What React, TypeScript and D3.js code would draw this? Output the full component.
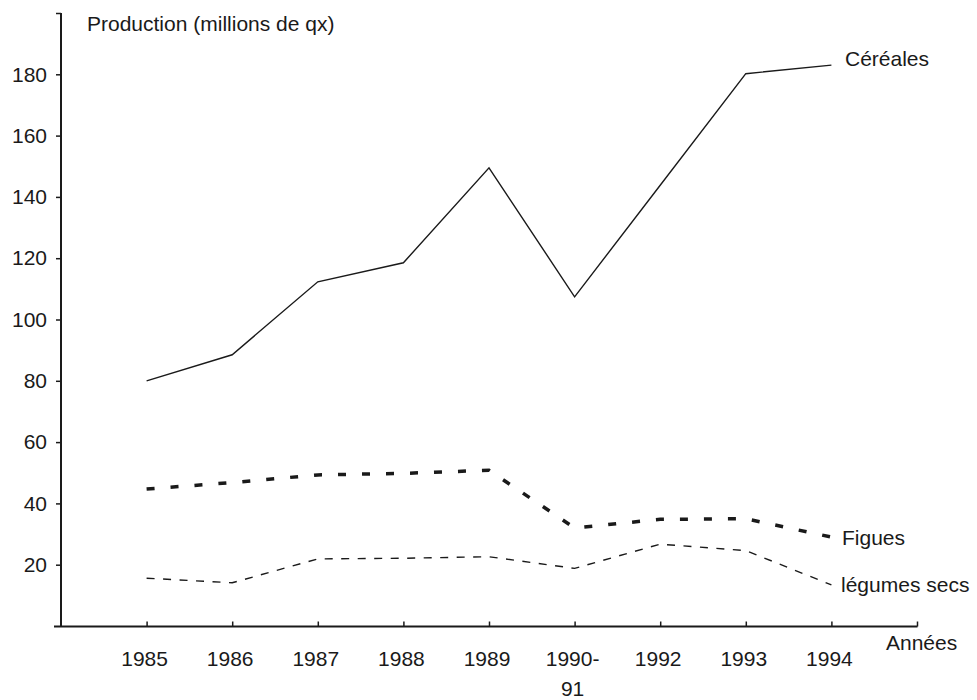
import React, { useEffect, useRef } from "react";
import * as d3 from "d3";

const years = ["1985", "1986", "1987", "1988", "1989", "1990-\n91", "1992", "1993", "1994"];
const cereales = [80, 88.5, 112.3, 118.5, 149.5, 107.4, 143.8, 180.2, 183];
const figues = [44.7, 46.8, 49.3, 49.8, 50.8, 32, 34.8, 35, 29];
const legumes = [15.6, 14.1, 21.9, 22.1, 22.6, 18.8, 26.7, 24.6, 13.4];
const yTicks = [20, 40, 60, 80, 100, 120, 140, 160, 180, 200];

const W = 977;
const H = 700;
const FONT = "'Liberation Sans', Arial, sans-serif";

export default function App() {
  const ref = useRef<SVGSVGElement>(null);

  useEffect(() => {
    const svg = d3.select(ref.current);
    svg.selectAll("*").remove();

    const x = d3.scaleLinear().domain([0, 10]).range([61, 917]);
    const y = d3.scaleLinear().domain([0, 200]).range([626, 13]);
    const color = "#1a1a1a";

    // Y axis
    const yAxis = d3
      .axisLeft(y)
      .tickValues(yTicks)
      .tickSizeInner(5)
      .tickSizeOuter(0)
      .tickPadding(9)
      .tickFormat((d) => (d === 200 ? "" : String(d)));
    const gy = svg.append("g").attr("transform", "translate(61,0)").call(yAxis as any);
    gy.select(".domain").remove();
    gy.selectAll(".tick line").attr("stroke", color).attr("stroke-width", 1.5);
    gy.selectAll(".tick text")
      .attr("font-family", FONT)
      .attr("font-size", 21)
      .attr("fill", color);
    svg
      .append("line")
      .attr("x1", 61)
      .attr("x2", 61)
      .attr("y1", y(200))
      .attr("y2", 627)
      .attr("stroke", color)
      .attr("stroke-width", 2);

    // X axis
    const xAxis = d3
      .axisBottom(x)
      .tickValues(d3.range(1, 11))
      .tickSizeInner(-5)
      .tickSizeOuter(0)
      .tickFormat(() => "");
    const gx = svg.append("g").attr("transform", "translate(0,626.5)").call(xAxis as any);
    gx.select(".domain").remove();
    gx.selectAll(".tick line").attr("stroke", color).attr("stroke-width", 1.5);
    svg
      .append("line")
      .attr("x1", 54)
      .attr("x2", 917.5)
      .attr("y1", 626.5)
      .attr("y2", 626.5)
      .attr("stroke", color)
      .attr("stroke-width", 2);

    // X labels
    const lab = svg
      .append("g")
      .attr("font-family", FONT)
      .attr("font-size", 21)
      .attr("fill", color)
      .attr("text-anchor", "middle");
    years.forEach((yr, i) => {
      const t = lab
        .append("text")
        .attr("x", x(i + 1) - 2)
        .attr("y", 666);
      yr.split("\n").forEach((part, j) => {
        t.append("tspan")
          .attr("x", x(i + 1) - 2)
          .attr("dy", j === 0 ? 0 : 30)
          .text(part);
      });
    });

    // Lines
    const line = d3
      .line<number>()
      .x((_, i) => x(i + 1))
      .y((d) => y(d));

    svg
      .append("path")
      .attr("d", line(cereales) as string)
      .attr("fill", "none")
      .attr("stroke", color)
      .attr("stroke-width", 1.4);
    svg
      .append("path")
      .attr("d", line(figues) as string)
      .attr("fill", "none")
      .attr("stroke", color)
      .attr("stroke-width", 3.5)
      .attr("stroke-dasharray", "8,16");
    svg
      .append("path")
      .attr("d", line(legumes) as string)
      .attr("fill", "none")
      .attr("stroke", color)
      .attr("stroke-width", 1.4)
      .attr("stroke-dasharray", "8,8.5");

    // Texts
    const txt = svg
      .append("g")
      .attr("font-family", FONT)
      .attr("font-size", 21)
      .attr("fill", color);
    txt.append("text").attr("x", 87).attr("y", 31).text("Production (millions de qx)");
    txt.append("text").attr("x", 845).attr("y", 66).text("Céréales");
    txt.append("text").attr("x", 842).attr("y", 545).text("Figues");
    txt.append("text").attr("x", 841).attr("y", 592).text("légumes secs");
    txt.append("text").attr("x", 886).attr("y", 650).text("Années");
  }, []);

  return (
    <svg
      ref={ref}
      width={W}
      height={H}
      style={{ position: "absolute", left: 0, top: 0, background: "#fff" }}
    />
  );
}
